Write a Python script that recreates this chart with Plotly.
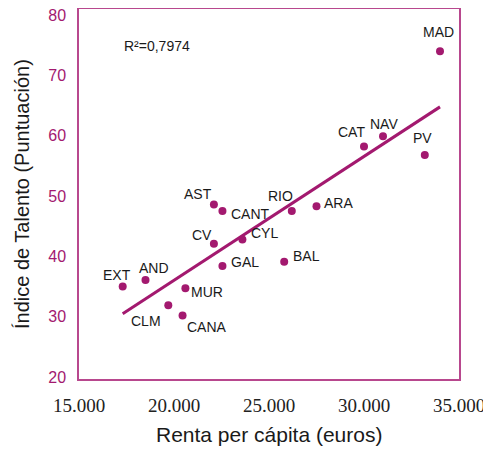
import numpy as np
import plotly.graph_objects as go

regions = ["MAD", "NAV", "CAT", "PV", "RIO", "ARA", "AST", "CANT", "CV", "CYL",
           "GAL", "BAL", "EXT", "AND", "MUR", "CLM", "CANA"]
renta = [34000, 31000, 30000, 33200, 26200, 27500, 22100, 22550, 22100, 23600,
         22550, 25800, 17300, 18500, 20600, 19700, 20450]
talento = [74.0, 59.9, 58.2, 56.8, 47.5, 48.3, 48.6, 47.5, 42.1, 42.8,
           38.4, 39.1, 35.0, 36.1, 34.7, 31.9, 30.2]
# label offsets (px) relative to each point: (dx, dy) with dy positive up
label_dx = [-2, 1, -13, -2, -11, 22, -16, 28, -12, 22, 23, 22, -6, 8, 22, -22, 24]
label_dy = [19, 12, 15, 17, 15, 3, 10, -3, 9, 6, 4, 6, 12, 12, -4, -16, -12]

x_ticks = [15000, 20000, 25000, 30000, 35000]
x_ticktext = ["15.000", "20.000", "25.000", "30.000", "35.000"]
y_ticks = [20, 30, 40, 50, 60, 70, 80]
r2_text = "R²=0,7974"

MAG = "#A3196F"

slope, intercept = np.polyfit(renta, talento, 1)
fit_x = [min(renta), max(renta)]
fit_y = [slope * v + intercept for v in fit_x]

fig = go.Figure()
fig.add_trace(go.Scatter(x=fit_x, y=fit_y, mode="lines",
                         line=dict(color=MAG, width=3), hoverinfo="skip"))
fig.add_trace(go.Scatter(x=renta, y=talento, mode="markers",
                         marker=dict(color=MAG, size=8), text=regions))

for r, xv, yv, dx, dy in zip(regions, renta, talento, label_dx, label_dy):
    fig.add_annotation(x=xv, y=yv, text=r, showarrow=False, xshift=dx, yshift=dy,
                       xanchor="center", yanchor="middle",
                       font=dict(family="Liberation Sans", size=14, color="#1a1a1a"))

fig.add_annotation(x=0.205, y=0.9, xref="paper", yref="paper", text=r2_text,
                   showarrow=False, xanchor="center", yanchor="middle",
                   font=dict(family="Liberation Sans", size=14, color="#1a1a1a"))
fig.add_annotation(x=0.5, y=-0.151, xref="paper", yref="paper", text="Renta per cápita (euros)",
                   showarrow=False, xanchor="center", yanchor="middle",
                   font=dict(family="Liberation Sans", size=21, color="#1a1a1a"))
fig.add_annotation(x=-0.15, y=0.5, xref="paper", yref="paper", text="Índice de Talento (Puntuación)",
                   showarrow=False, textangle=-90, xanchor="center", yanchor="middle",
                   font=dict(family="Liberation Sans", size=20, color="#1a1a1a"))

fig.update_layout(
    width=483, height=441,
    margin=dict(l=71, r=32, t=1, b=70, autoexpand=False),
    plot_bgcolor="white", paper_bgcolor="white",
    showlegend=False,
    xaxis=dict(range=[15000, 35000], tickvals=x_ticks, ticktext=x_ticktext,
               showgrid=False, zeroline=False, showline=True, mirror=True,
               linecolor="#B8488E", linewidth=1.5, ticks="", ticklabelstandoff=8,
               ticklabeloverflow="allow",
               tickfont=dict(family="Liberation Sans Narrow", size=19, color="#222222")),
    yaxis=dict(range=[19.67, 81.0], tickvals=y_ticks,
               showgrid=False, zeroline=False, showline=True, mirror=True,
               linecolor="#B8488E", linewidth=1.5, ticks="", ticklabelstandoff=8,
               ticklabeloverflow="allow",
               tickfont=dict(family="Liberation Sans", size=16, color=MAG)),
)

fig.write_html("out.html")
